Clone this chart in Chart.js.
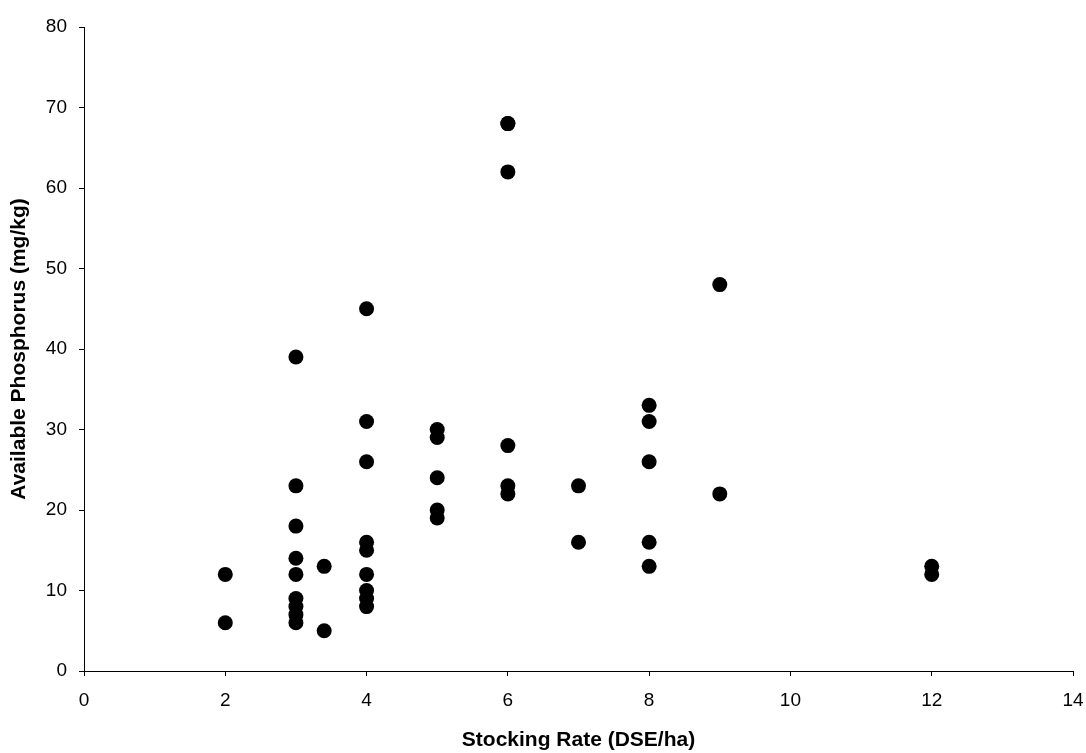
<!DOCTYPE html>
<html>
<head>
<meta charset="utf-8">
<title>Stocking Rate vs Available Phosphorus</title>
<script src="https://cdn.jsdelivr.net/npm/chart.js@4/dist/chart.umd.min.js"></script>
<style>
  html, body { margin: 0; padding: 0; background: #fff; }
  #wrap { width: 1086px; height: 753px; }
</style>
</head>
<body>
<div id="wrap"><canvas id="scatterChart" width="1086" height="753"></canvas></div>
<script>
// Stocking rate (DSE/ha) and available P (mg/kg) per paddock
const stockingRate = [
    2, 2,
    3, 3, 3, 3, 3, 3, 3, 3, 3,
    3.4, 3.4,
    4, 4, 4, 4, 4, 4, 4, 4, 4,
    5, 5, 5, 5, 5,
    6, 6, 6, 6, 6, 6,
    7, 7,
    8, 8, 8, 8, 8,
    9, 9,
    12, 12
];
const phosphorus = [
    12, 6,
    39, 23, 18, 14, 12, 9, 8, 7, 6,
    13, 5,
    45, 31, 26, 16, 15, 12, 10, 9, 8,
    30, 29, 24, 20, 19,
    68, 68, 62, 28, 23, 22,
    23, 16,
    33, 31, 26, 16, 13,
    48, 22,
    13, 12
];

const xTicks = [0, 2, 4, 6, 8, 10, 12, 14];
const yTicks = [0, 10, 20, 30, 40, 50, 60, 70, 80];

const points = stockingRate.map((x, i) => ({ x: x, y: phosphorus[i] }));

const fontFamily = "'Liberation Sans', Arial, sans-serif";

const ctx = document.getElementById('scatterChart').getContext('2d');
new Chart(ctx, {
    type: 'scatter',
    data: {
        datasets: [{
            label: 'Available P',
            data: points,
            backgroundColor: '#000',
            borderWidth: 0,
            pointRadius: 7.5,
            pointHoverRadius: 7.5
        }]
    },
    options: {
        responsive: false,
        animation: false,
        layout: { padding: { top: 27, right: 13, left: 0, bottom: 0 } },
        plugins: {
            legend: { display: false },
            tooltip: { enabled: false }
        },
        scales: {
            x: {
                type: 'linear',
                min: xTicks[0],
                max: xTicks[xTicks.length - 1],
                afterBuildTicks: (scale) => { scale.ticks = xTicks.map(v => ({ value: v })); },
                afterFit: (scale) => {
                    // fixed plot box: don't let end labels push the axis in
                    scale.height = 82;
                    scale.paddingLeft = 0;
                    scale.paddingRight = 0;
                },
                border: { display: true, color: '#000', width: 1 },
                grid: { drawOnChartArea: false, drawTicks: true, tickLength: 5, color: '#000' },
                ticks: { color: '#000', padding: 13, font: { family: fontFamily, size: 19 } },
                title: {
                    display: true,
                    text: 'Stocking Rate (DSE/ha)',
                    color: '#000',
                    padding: { top: 0, bottom: 0 },
                    font: { family: fontFamily, size: 21, weight: 'bold' }
                }
            },
            y: {
                type: 'linear',
                min: yTicks[0],
                max: yTicks[yTicks.length - 1],
                afterBuildTicks: (scale) => { scale.ticks = yTicks.map(v => ({ value: v })); },
                afterFit: (scale) => {
                    scale.width = 84;
                    scale.paddingTop = 0;
                    scale.paddingBottom = 0;
                },
                border: { display: true, color: '#000', width: 1 },
                grid: { drawOnChartArea: false, drawTicks: true, tickLength: 5, color: '#000' },
                ticks: { color: '#000', padding: 12, font: { family: fontFamily, size: 19 } },
                title: {
                    display: true,
                    text: 'Available Phosphorus (mg/kg)',
                    color: '#000',
                    padding: { top: 7, bottom: 0 },
                    font: { family: fontFamily, size: 21, weight: 'bold' }
                }
            }
        }
    }
});
</script>
</body>
</html>
